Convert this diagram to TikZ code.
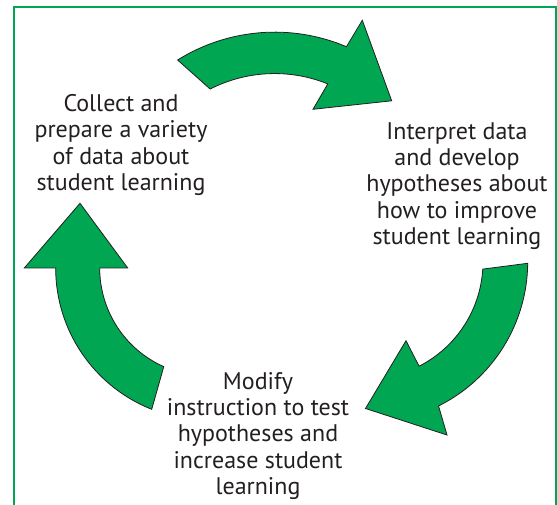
\documentclass[tikz,border=0pt]{standalone}
\usepackage{fontspec}
\setmainfont{PT Sans}
\usepackage{xcolor}
\usepackage{tikz}
\definecolor{cyclegreen}{HTML}{00A651}
\definecolor{textgray}{HTML}{231F20}
\tikzset{
    cyclearrow/.style={fill=cyclegreen, draw=textgray, line width=0.8pt, line join=miter},
    stagetext/.style={align=center, text=textgray, inner sep=0pt, font=\fontsize{24}{26.2}\selectfont},
}

\begin{document}
\begin{tikzpicture}[x=1pt, y=-1pt]
    \useasboundingbox (0,0) rectangle (557,505);
    \draw[cyclegreen, line width=2.2pt] (13.8,505) -- (13.8,7) -- (556,7) -- (556,505);
    \draw[cyclearrow] (177.6,60) coordinate (T0) arc[start angle=-122, end angle=-67, radius=183.4] -- (362.3,20.3) -- (391.7,100.8) coordinate (Ttip) -- (313,109.3) -- (327.8,83.9) arc[start angle=-68, end angle=-117, radius=142] -- cycle;
    \draw[cyclearrow] (527.7,263.3) coordinate (R0) arc[start angle=0.5, end angle=63.5, radius=161] -- (447,435) -- (365.5,408.5) coordinate (Rtip) -- (406,340.7) -- (419.1,366.2) arc[start angle=63, end angle=3.5, radius=117] -- cycle;
    \draw[cyclearrow] (151.7,409.3) coordinate (L0) arc[start angle=111.6, end angle=180, radius=152] -- (24.3,268) -- (80,203.3) coordinate (Ltip) -- (127.7,268) -- (99.7,268) arc[start angle=180, end angle=114, radius=108] -- cycle;
    \node[stagetext] (collect) at (121,145) {Collect and\\prepare a variety\\of data about\\student learning};
    \node[stagetext] (interpret) at (457,186) {Interpret data\\and develop\\hypotheses about\\how to improve\\student learning};
    \node[stagetext] (modify) at (258,436) {Modify\\instruction to test\\hypotheses and\\increase student\\learning};
\end{tikzpicture}
\end{document}
